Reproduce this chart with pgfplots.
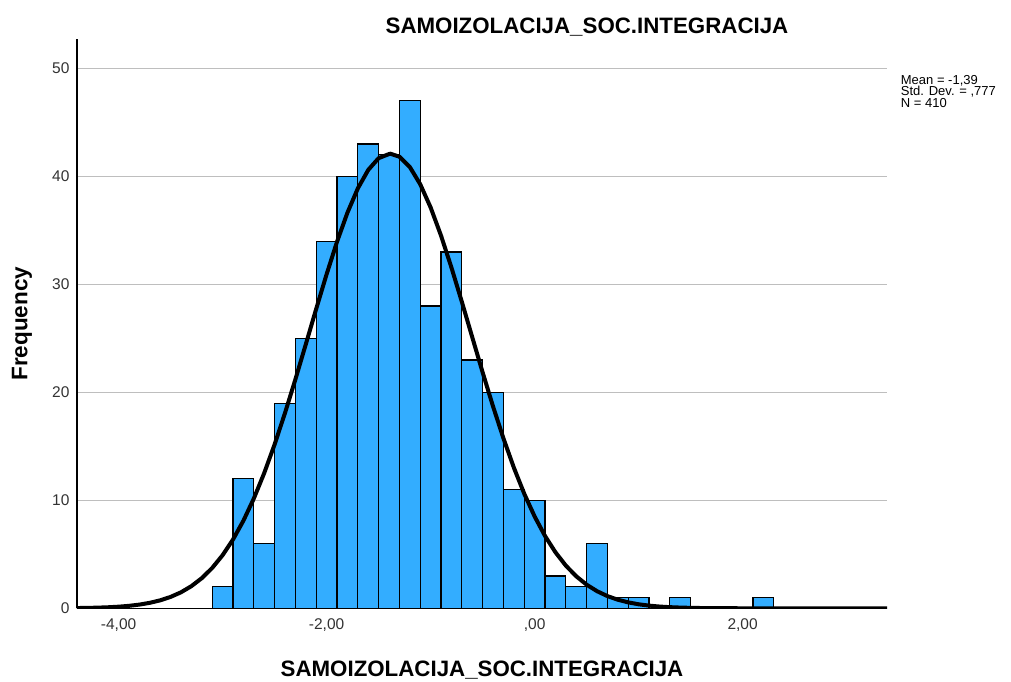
\documentclass[border=0pt]{standalone}
\usepackage{fontspec}
\setmainfont{Liberation Sans}
\usepackage{pgfplots}
\pgfplotsset{compat=1.18}
\definecolor{barblue}{RGB}{51,173,255}
\definecolor{gridgray}{RGB}{190,190,190}
\begin{document}
\begin{tikzpicture}
\useasboundingbox (-77pt,-73.7pt) rectangle (934pt,608.3pt);
\begin{axis}[
  at={(0,0)}, anchor=south west,
  scale only axis, width=810pt, height=569pt,
  xmin=-4.40, xmax=3.388, ymin=0, ymax=52.69,
  clip mode=individual,
  axis x line*=bottom, axis y line*=left,
  axis line style={-, black, line width=1.3pt},
  xtick={-4,-2,0,2}, xticklabels={{-4,00},{-2,00},{,00},{2,00}},
  ytick={0,10,20,30,40,50}, yticklabels={0,10,20,30,40,50},
  ymajorgrids, grid style={gridgray, line width=1.2pt},
  major tick length=0pt,
  tick label style={font=\fontsize{15.5}{18}\selectfont, text=black!80},
  xticklabel style={yshift=-6.5pt},
  yticklabel style={xshift=-4pt},
  ylabel={Frequency},
  ylabel style={font=\fontsize{22.5}{26}\selectfont\bfseries, at={(axis description cs:-0.0679,0.5)}, anchor=center},
  xlabel={SAMOIZOLACIJA\_SOC.INTEGRACIJA},
  xlabel style={font=\fontsize{22.3}{26}\selectfont\bfseries, at={(axis description cs:0.5,-0.119)}, anchor=base},
]
\addplot[ybar interval, fill=barblue, draw=black, line width=1.2pt] coordinates {
(-3.1,2) (-2.9,12) (-2.7,6) (-2.5,19) (-2.3,25) (-2.1,34) (-1.9,40) (-1.7,43)
(-1.5,42) (-1.3,47) (-1.1,28) (-0.9,33) (-0.7,23) (-0.5,20) (-0.3,11) (-0.1,10)
(0.1,3) (0.3,2) (0.5,6) (0.7,1) (0.9,1) (1.1,0) (1.3,1) (1.5,0) (1.7,0) (1.9,0)
(2.1,1) (2.3,1)
};
\addplot[black, line width=4pt, line join=round, line cap=round] coordinates {
(-4.4,0.0232) (-4.3,0.0379) (-4.2,0.0608) (-4.1,0.0961) (-4.0,0.1493) (-3.9,0.2282)
(-3.8,0.3429) (-3.7,0.5070) (-3.6,0.7373) (-3.5,1.0543) (-3.4,1.4832) (-3.3,2.0519)
(-3.2,2.7924) (-3.1,3.7374) (-3.0,4.9205) (-2.9,6.3714) (-2.8,8.1141) (-2.7,10.163)
(-2.6,12.523) (-2.5,15.175) (-2.4,18.088) (-2.3,21.206) (-2.2,24.453) (-2.1,27.733)
(-2.0,30.936) (-1.9,33.943) (-1.8,36.630) (-1.7,38.881) (-1.6,40.592) (-1.5,41.682)
(-1.39,42.102) (-1.3,41.820) (-1.2,40.862) (-1.1,39.269) (-1.0,37.119) (-0.9,34.510)
(-0.8,31.558) (-0.7,28.384) (-0.6,25.109) (-0.5,21.847) (-0.4,18.697) (-0.3,15.739)
(-0.2,13.031) (-0.1,10.611) (0.0,8.4997) (0.1,6.6953) (0.2,5.1883) (0.3,3.9540)
(0.4,2.9639) (0.5,2.1852) (0.6,1.5847) (0.7,1.1303) (0.8,0.7930) (0.9,0.5472)
(1.0,0.3714) (1.1,0.2479) (1.2,0.1628) (1.3,0.1051) (1.4,0.0668) (1.5,0.0417)
(1.6,0.0256) (1.7,0.0155) (1.8,0.0092) (2.0,0.0031) (2.4,0.0002) (3.388,0.0)
};
\node[anchor=base, font=\fontsize{22.3}{26}\selectfont\bfseries] at (axis description cs:0.6296,1.0105) {SAMOIZOLACIJA\_SOC.INTEGRACIJA};
\node[anchor=base west, inner sep=0pt, font=\fontsize{13}{13}\selectfont] at (axis description cs:1.0169,0.9197) {Mean = -1,39};
\node[anchor=base west, inner sep=0pt, font=\fontsize{13}{13}\selectfont] at (axis description cs:1.0169,0.9004) {Std. Dev. = ,777};
\node[anchor=base west, inner sep=0pt, font=\fontsize{13}{13}\selectfont] at (axis description cs:1.0169,0.8810) {N = 410};
\end{axis}
\end{tikzpicture}
\end{document}
